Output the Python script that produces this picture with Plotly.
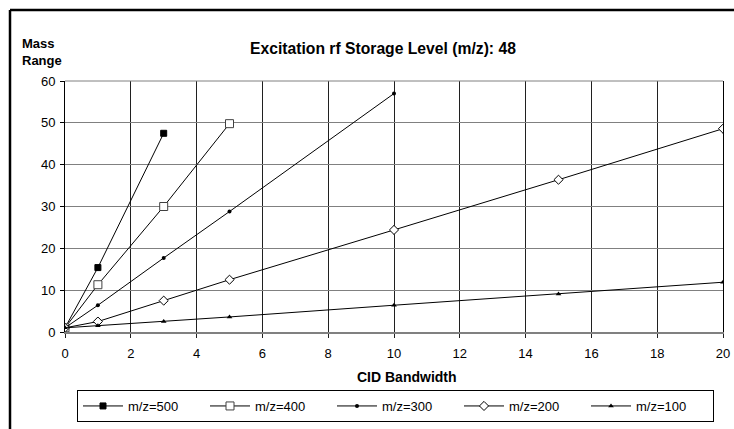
import plotly.graph_objects as go

# Data
series_names = ["m/z=500", "m/z=400", "m/z=300", "m/z=200", "m/z=100"]
x_500 = [0, 1, 3]
y_500 = [1, 15.4, 47.5]
x_400 = [0, 1, 3, 5]
y_400 = [1, 11.3, 30, 49.8]
x_300 = [0, 1, 3, 5, 10]
y_300 = [1, 6.4, 17.7, 28.8, 57]
x_200 = [0, 1, 3, 5, 10, 15, 20]
y_200 = [1, 2.5, 7.5, 12.5, 24.4, 36.4, 48.6]
x_100 = [0, 1, 3, 5, 10, 15, 20]
y_100 = [1, 1.5, 2.5, 3.6, 6.4, 9.1, 11.9]

title_text = "Excitation rf Storage Level (m/z): 48"
x_title = "CID Bandwidth"
y_title = "Mass<br>Range"

W, H = 734, 429
L, R, T, B = 65, 11, 81, 97
PW, PH = W - L - R, H - T - B

def px_x(p):
    return (p - L) / PW

def px_y(p):
    return (H - p - B) / PH

FONT = "Liberation Sans, Arial, sans-serif"

fig = go.Figure()
styles = [
    (x_500, y_500, dict(symbol="square", size=6, color="black", line=dict(color="black", width=1))),
    (x_400, y_400, dict(symbol="square", size=8, color="white", line=dict(color="#404040", width=1))),
    (x_300, y_300, dict(symbol="circle", size=4, color="black")),
    (x_200, y_200, dict(symbol="diamond", size=7, color="white", line=dict(color="black", width=1))),
    (x_100, y_100, dict(symbol="triangle-up", size=5, color="black")),
]
for name, (xs, ys, mk) in zip(series_names, styles):
    fig.add_trace(go.Scatter(x=xs, y=ys, name=name, mode="lines+markers",
                             line=dict(color="black", width=1), marker=mk))

fig.update_layout(
    width=W, height=H,
    margin=dict(l=L, r=R, t=T, b=B, autoexpand=False),
    paper_bgcolor="white", plot_bgcolor="white",
    font=dict(family=FONT, size=13, color="black"),
    showlegend=True,
    legend=dict(orientation="h", x=px_x(395.5), xanchor="center", y=px_y(390), yanchor="top",
                bordercolor="black", borderwidth=1, font=dict(size=13),
                entrywidth=72, itemwidth=40),
    xaxis=dict(range=[0, 20], dtick=2, tick0=0, showgrid=True, gridcolor="#202020", gridwidth=1,
               showline=True, linecolor="#808080", linewidth=2, mirror=False,
               ticks="outside", ticklen=4, tickcolor="#202020", zeroline=False,
               tickfont=dict(size=13), ticklabelstandoff=4),
    yaxis=dict(range=[0, 60], dtick=10, tick0=0, showgrid=True, gridcolor="#808080", gridwidth=1,
               showline=True, linecolor="black", linewidth=1, mirror=True,
               ticks="outside", ticklen=4, tickcolor="black", zeroline=False,
               tickfont=dict(size=13), ticklabelstandoff=2),
    annotations=[
        dict(text="<b>" + title_text + "</b>", x=px_x(383), y=px_y(49), xref="paper", yref="paper",
             showarrow=False, font=dict(size=15.7), xanchor="center", yanchor="middle"),
        dict(text="<b>" + x_title + "</b>", x=px_x(407), y=px_y(377), xref="paper", yref="paper",
             showarrow=False, font=dict(size=14), xanchor="center", yanchor="middle"),
        dict(text="<b>" + y_title + "</b>", x=px_x(20), y=px_y(52), xref="paper", yref="paper",
             showarrow=False, font=dict(size=13), xanchor="left", yanchor="middle", align="left"),
    ],
    shapes=[
        dict(type="line", xref="paper", yref="paper", x0=px_x(10), x1=px_x(734), y0=px_y(10), y1=px_y(10),
             line=dict(color="black", width=2.5)),
        dict(type="line", xref="paper", yref="paper", x0=px_x(10), x1=px_x(10), y0=px_y(10), y1=px_y(429),
             line=dict(color="black", width=2.5)),
        dict(type="line", xref="paper", yref="paper", x0=0, x1=1, y0=1, y1=1,
             line=dict(color="#808080", width=1)),
    ],
)

fig.write_html("out.html",
               config={"displayModeBar": False},
               post_script="document.body.style.margin='0px';document.body.style.padding='0px';"
                           "document.body.style.overflow='hidden';")
